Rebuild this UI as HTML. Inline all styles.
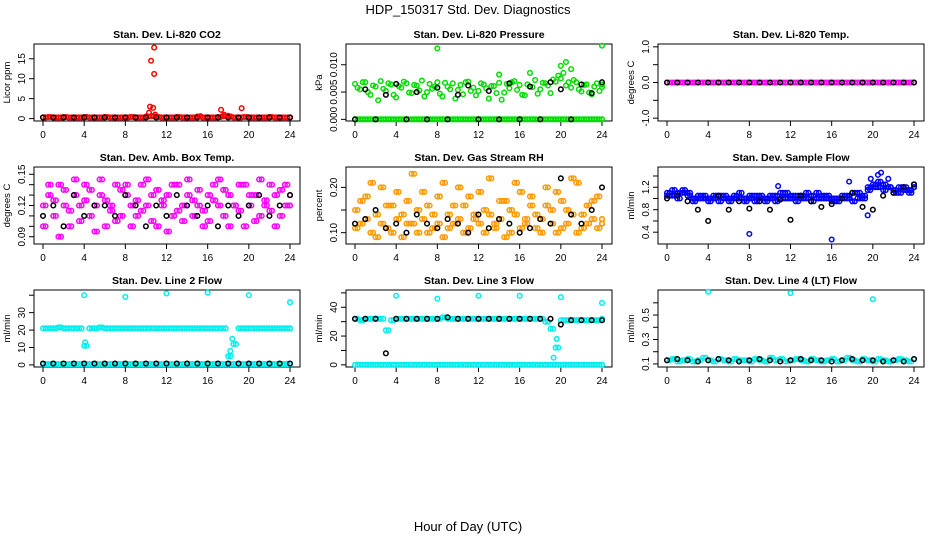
<!DOCTYPE html>
<html><head><meta charset="utf-8"><style>
body{margin:0;background:#fff;}
svg{display:block;font-family:"Liberation Sans",sans-serif;}
</style></head><body>
<svg id="c" width="936" height="540" viewBox="0 0 936 540">
<text x="468" y="14" text-anchor="middle" font-size="13">HDP_150317  Std. Dev. Diagnostics</text>
<text x="468" y="531" text-anchor="middle" font-size="13">Hour of Day (UTC)</text>
</svg>
<script>
// ---- data ----
const xTicks = [0,4,8,12,16,20,24];
const co2Base = [0.3,0.4,0.3,0.3,0.4,0.3,0.3,0.3,0.4,0.3,0.3,0.3,0.4,0.3,0.3,0.3,0.3,0.4,0.3,0.3,0.5,0.6,0.4,0.3,0.3,0.3,0.4,0.3,0.3,0.3,0.5,0.3,0.3,0.3,0.4,0.6,0.5,0.3,0.3,0.4,0.3,0.3,0.3,0.3,0.4,0.3,0.3,0.3,0.3];
const co2SpikeH = [10.3,10.4,10.5,10.7,10.8,10.8,10.9,15.3,17.3,17.6,18.0,19.3];
const co2SpikeV = [1.5,3,14.5,2.7,17.8,11.2,1.0,0.6,2.2,1.0,0.7,2.6];
const co2Black = [0.3,0.3,0.3,0.3,0.3,0.3,0.3,0.3,0.3,0.3,0.3,0.3,0.3,0.3,0.3,0.3,0.3,0.3,0.3,0.3,0.3,0.3,0.3,0.3,0.3];
const presLow = [0,0,0,0,0,0,0,0,0,0,0,0,0,0,0,0,0,0,0,0,0,0,0,0,0,0,0,0,0,0,0,0,0,0,0,0,0,0,0,0,0,0,0,0,0,0,0,0,0];
const presHigh = [0.0065,0.0055,0.0068,0.0045,0.006,0.007,0.0052,0.0064,0.004,0.0058,0.0066,0.0048,0.0062,0.0071,0.005,0.0056,0.0068,0.0042,0.006,0.0066,0.0054,0.0046,0.0069,0.0058,0.0052,0.0064,0.0038,0.0061,0.0067,0.0049,0.0057,0.007,0.0063,0.0044,0.006,0.0072,0.0055,0.0066,0.0048,0.0069,0.0075,0.0062,0.0058,0.0068,0.0051,0.0064,0.0046,0.0066,0.0059];
const presHigh2 = [0.0058,0.0068,0.005,0.0062,0.0035,0.0056,0.0066,0.0045,0.0061,0.0069,0.0049,0.0063,0.0053,0.0042,0.0065,0.006,0.0047,0.0067,0.0055,0.0038,0.0063,0.0068,0.0052,0.0044,0.0066,0.0057,0.0061,0.0048,0.0036,0.0065,0.0068,0.0054,0.0045,0.0064,0.0059,0.0047,0.0067,0.0062,0.0073,0.008,0.0085,0.0068,0.0072,0.0055,0.0063,0.0049,0.006,0.0052,0.0064];
const presOutH = [8,24,20,20.5,21,17,14];
const presOutV = [0.013,0.0135,0.0098,0.0105,0.0092,0.0085,0.0082];
const presBlack = [0,0.0055,0,0.0045,0.0065,0,0.005,0,0.0058,0,0.0045,0.0062,0,0.0052,0,0.0066,0,0.006,0,0.0068,0.0055,0,0.0064,0.0048,0.0068];
const tempMag = [0,0,0,0,0,0,0,0,0,0,0,0,0,0,0,0,0,0,0,0,0,0,0,0,0,0,0,0,0,0,0,0,0,0,0,0,0,0,0,0,0,0,0,0,0,0,0,0,0];
const tempBlack = [0,0,0,0,0,0,0,0,0,0,0,0,0,0,0,0,0,0,0,0,0,0,0,0,0];
const ambA = [0.12,0.13,0.11,0.14,0.12,0.10,0.13,0.12,0.14,0.11,0.12,0.13,0.10,0.12,0.14,0.11,0.13,0.12,0.11,0.14,0.12,0.13,0.10,0.12,0.13,0.11,0.14,0.12,0.13,0.11,0.12,0.10,0.13,0.14,0.12,0.11,0.13,0.12,0.14,0.10,0.12,0.13,0.11,0.12,0.14,0.13,0.11,0.12,0.13];
const ambB = [0.10,0.14,0.125,0.09,0.135,0.115,0.145,0.105,0.125,0.135,0.095,0.145,0.125,0.115,0.105,0.135,0.14,0.10,0.125,0.115,0.145,0.105,0.135,0.125,0.095,0.14,0.115,0.105,0.145,0.125,0.135,0.115,0.105,0.125,0.145,0.135,0.10,0.12,0.115,0.14,0.13,0.105,0.145,0.125,0.115,0.10,0.135,0.14,0.12];
const ambBlack = [0.11,0.12,0.10,0.13,0.11,0.12,0.12,0.11,0.13,0.12,0.10,0.12,0.11,0.13,0.12,0.11,0.12,0.10,0.12,0.11,0.12,0.13,0.11,0.12,0.13];
const rhA = [0.15,0.12,0.18,0.10,0.14,0.20,0.11,0.16,0.13,0.09,0.17,0.12,0.15,0.19,0.10,0.14,0.12,0.21,0.11,0.16,0.13,0.10,0.18,0.14,0.12,0.15,0.22,0.11,0.13,0.17,0.10,0.14,0.19,0.12,0.16,0.11,0.13,0.20,0.15,0.10,0.17,0.12,0.14,0.21,0.11,0.16,0.13,0.18,0.12];
const rhB = [0.11,0.17,0.13,0.21,0.09,0.12,0.16,0.10,0.19,0.14,0.12,0.23,0.10,0.13,0.16,0.11,0.18,0.09,0.14,0.12,0.20,0.16,0.11,0.13,0.19,0.10,0.14,0.12,0.17,0.09,0.15,0.21,0.11,0.13,0.18,0.14,0.10,0.16,0.12,0.19,0.11,0.15,0.22,0.10,0.14,0.12,0.17,0.11,0.13];
const rhBlack = [0.12,0.13,0.15,0.11,0.12,0.10,0.14,0.12,0.11,0.13,0.12,0.10,0.14,0.11,0.13,0.12,0.10,0.11,0.13,0.12,0.22,0.14,0.12,0.15,0.20];
const flowA = [1.1,1.05,1.1,1.15,1.05,1.0,1.0,1.05,0.95,1.0,1.05,1.0,1.0,1.05,1.0,0.95,1.0,1.05,1.0,1.0,1.05,0.95,1.0,1.1,1.0,1.05,1.0,1.0,1.05,1.1,1.05,1.0,0.95,1.0,1.0,1.05,1.1,1.0,1.05,1.2,1.25,1.2,1.15,1.2,1.15,1.1,1.2,1.15,1.2];
const flowB = [1.05,1.15,1.0,1.1,1.1,0.95,1.05,1.0,1.0,1.05,0.95,1.05,0.95,1.0,1.1,1.0,1.05,0.95,1.05,0.95,1.0,1.05,1.1,1.0,1.05,0.95,1.05,1.1,0.95,1.0,1.0,1.05,1.0,0.95,1.05,1.0,0.95,1.1,1.0,1.15,1.2,1.3,1.25,1.2,1.1,1.2,1.15,1.1,1.25];
const flowOutH = [8,16,20.5,20.8,17.7,19.5,21.5,19.8,10.8];
const flowOutV = [0.37,0.27,1.42,1.46,1.3,0.7,1.35,1.35,1.22];
const flowBlack = [1.0,1.05,0.95,0.8,0.6,1.05,0.8,0.95,0.82,0.95,0.8,0.98,0.62,1.05,0.95,0.85,0.9,1.0,1.1,0.85,0.8,1.05,1.1,1.2,1.25];
const l2High = [21,21,21,21.5,21,21,21,21,11,21,21,21.5,21,21,21,21,21,21,21,21,21,21,21,21,21,21,21,21,21,21,21,21,21,21,21,21,5,12,21,21,21,21,21,21,21,21,21,21,21];
const l2Low = [0.5,0.5,0.5,0.5,0.5,0.5,0.5,0.5,0.5,0.5,0.5,0.5,0.5,0.5,0.5,0.5,0.5,0.5,0.5,0.5,0.5,0.5,0.5,0.5,0.5,0.5,0.5,0.5,0.5,0.5,0.5,0.5,0.5,0.5,0.5,0.5,0.5,0.5,0.5,0.5,0.5,0.5,0.5,0.5,0.5,0.5,0.5,0.5,0.5];
const l2OutH = [4,8,12,16,20,24,4.1,18.2,18.4];
const l2OutV = [40,39,41,41.5,40,36,13,8,15];
const l2Black = [0.8,0.8,0.8,0.8,0.8,0.8,0.8,0.8,0.8,0.8,0.8,0.8,0.8,0.8,0.8,0.8,0.8,0.8,0.8,0.8,0.8,0.8,0.8,0.8,0.8];
const l3High = [32,31,32,32,32,32,24,31,32,32,32,32,32,32,32,32,32,33,32,32,32,32,32,32,32,32,32,32,32,32,32,32,32,32,32,32,32,30,25,12,31,31,31,31,31,31,31,31,32];
const l3Low = [0,0,0,0,0,0,0,0,0,0,0,0,0,0,0,0,0,0,0,0,0,0,0,0,0,0,0,0,0,0,0,0,0,0,0,0,0,0,0,0,0,0,0,0,0,0,0,0,0];
const l3OutH = [4,8,12,16,20,24,19.3,19.6];
const l3OutV = [48,46,48,48,47,43,5,18];
const l3Black = [32,32,32,8,32,32,32,32,32,33,32,32,32,32,32,32,32,32,32,32,28,31,31,31,31];
const l4A = [0.13,0.14,0.12,0.13,0.14,0.12,0.13,0.15,0.13,0.12,0.14,0.13,0.12,0.14,0.13,0.13,0.12,0.14,0.13,0.12,0.15,0.13,0.14,0.12,0.13,0.14,0.13,0.12,0.14,0.13,0.12,0.13,0.14,0.12,0.13,0.15,0.13,0.12,0.14,0.13,0.12,0.14,0.13,0.12,0.13,0.14,0.13,0.12,0.14];
const l4OutH = [4,12,20];
const l4OutV = [0.69,0.68,0.63];
const l4Black = [0.13,0.14,0.13,0.12,0.13,0.14,0.13,0.12,0.13,0.14,0.13,0.12,0.13,0.14,0.13,0.13,0.12,0.13,0.14,0.13,0.13,0.12,0.13,0.12,0.14];

const hours49 = Array.from({length:49},(_,i)=>i*0.5);
const hours49b = Array.from({length:49},(_,i)=>i*0.5+0.25).map(h=>Math.min(h,24));
const hours25 = Array.from({length:25},(_,i)=>i);

const RED='#ff0000',GRN='#00dd00',MAG='#ff00ff',ORG='#ff9900',BLU='#0000ff',CYN='#00eeee',BLK='#000000';

const panels = [
 {name:'co2',title:'Stan. Dev. Li-820 CO2',col:0,row:0,ymin:-0.6,ymax:18.7,ticks:[0,5,10,15],labels:['0','5','10','15'],ylab:'Licor ppm',
  series:[[hours49,co2Base,RED],[hours49b,co2Base,RED],[hours25,co2Black,BLK],[co2SpikeH,co2SpikeV,RED]]},
 {name:'pressure',title:'Stan. Dev. Li-820 Pressure',col:1,row:0,ymin:-0.0003,ymax:0.0138,ticks:[0,0.005,0.01],labels:['0.000','0.005','0.010'],ylab:'kPa',
  series:[[hours49,presLow,GRN],[hours49b,presLow,GRN],[hours49,presHigh,GRN],[hours49b,presHigh2,GRN],[presOutH,presOutV,GRN],[hours25,presBlack,BLK]]},
 {name:'temp',title:'Stan. Dev. Li-820 Temp.',col:2,row:0,ymin:-1.08,ymax:1.08,ticks:[-1,-0.5,0,0.5,1],labels:['-1.0','','0.0','','1.0'],ylab:'degrees C',
  series:[[hours49,tempMag,MAG],[hours49b,tempMag,MAG],[hours25,tempBlack,BLK]]},
 {name:'amb-box',title:'Stan. Dev. Amb. Box Temp.',col:0,row:1,ymin:0.083,ymax:0.157,ticks:[0.09,0.10,0.11,0.12,0.13,0.14,0.15],labels:['0.09','','','0.12','','','0.15'],ylab:'degrees C',
  series:[[hours49,ambA,MAG],[hours49b,ambB,MAG],[hours49,ambB,MAG],[hours49b,ambA,MAG],[hours25,ambBlack,BLK]]},
 {name:'rh',title:'Stan. Dev. Gas Stream RH',col:1,row:1,ymin:0.075,ymax:0.245,ticks:[0.10,0.15,0.20],labels:['0.10','','0.20'],ylab:'percent',
  series:[[hours49,rhA,ORG],[hours49b,rhB,ORG],[hours49,rhB,ORG],[hours49b,rhA,ORG],[hours25,rhBlack,BLK]]},
 {name:'sample-flow',title:'Stan. Dev. Sample Flow',col:2,row:1,ymin:0.19,ymax:1.56,ticks:[0.4,0.6,0.8,1.0,1.2,1.4],labels:['0.4','','0.8','','1.2',''],ylab:'ml/min',
  series:[[hours49,flowA,BLU],[hours49b,flowB,BLU],[hours49,flowB,BLU],[hours49b,flowA,BLU],[flowOutH,flowOutV,BLU],[hours25,flowBlack,BLK]]},
 {name:'line2',title:'Stan. Dev. Line 2 Flow',col:0,row:2,ymin:-1.2,ymax:43,ticks:[0,10,20,30,40],labels:['0','10','20','30',''],ylab:'ml/min',
  series:[[hours49,l2High,CYN],[hours49b,l2High,CYN],[hours49,l2Low,CYN],[hours49b,l2Low,CYN],[l2OutH,l2OutV,CYN],[hours25,l2Black,BLK]]},
 {name:'line3',title:'Stan. Dev. Line 3 Flow',col:1,row:2,ymin:-1.5,ymax:52,ticks:[0,10,20,30,40,50],labels:['0','','20','','40',''],ylab:'ml/min',
  series:[[hours49,l3High,CYN],[hours49b,l3High,CYN],[hours49,l3Low,CYN],[hours49b,l3Low,CYN],[l3OutH,l3OutV,CYN],[hours25,l3Black,BLK]]},
 {name:'line4',title:'Stan. Dev. Line 4 (LT) Flow',col:2,row:2,ymin:0.075,ymax:0.705,ticks:[0.1,0.2,0.3,0.4,0.5,0.6],labels:['0.1','','0.3','','0.5',''],ylab:'ml/min',
  series:[[hours49,l4A,CYN],[hours49b,l4A,CYN],[l4OutH,l4OutV,CYN],[hours25,l4Black,BLK]]}
];

const NS='http://www.w3.org/2000/svg';
const svg=document.getElementById('c');
function mk(tag,attrs,parent){const e=document.createElementNS(NS,tag);for(const k in attrs)e.setAttribute(k,attrs[k]);parent.appendChild(e);return e;}
const colX=[34,346,658], rowY=[44,167,290], W=266, H=77;

panels.forEach(p=>{
  const L=colX[p.col], T=rowY[p.row];
  const g=mk('g',{},svg);
  
  
  const xs=h=>L+9+h/24*247;
  const ys=v=>T+H-(v-p.ymin)/(p.ymax-p.ymin)*H;
  const t=mk('text',{x:L+W/2,y:T-6,'text-anchor':'middle','font-size':'10.5','font-weight':'bold'},g);
  t.textContent=p.title;
  
  
  const box=mk('rect',{x:L,y:T,width:W,height:H,fill:'none',stroke:'#000','stroke-width':1},g);
  
  
  const xa=mk('g',{},g);
  
  
  mk('line',{x1:xs(0),x2:xs(24),y1:T+H,y2:T+H,stroke:'#000'},xa);
  xTicks.forEach(h=>{
    mk('line',{x1:xs(h),x2:xs(h),y1:T+H,y2:T+H+5,stroke:'#000'},xa);
    const lt=mk('text',{x:xs(h),y:T+H+17,'text-anchor':'middle','font-size':'10'},xa);
    lt.textContent=h;
  });
  const ya=mk('g',{},g);
  
  
  mk('line',{x1:L,x2:L,y1:ys(p.ticks[0]),y2:ys(p.ticks[p.ticks.length-1]),stroke:'#000'},ya);
  p.ticks.forEach((v,i)=>{
    const y=ys(v);
    mk('line',{x1:L-5,x2:L,y1:y,y2:y,stroke:'#000'},ya);
    if(p.labels[i]){
      const lt=mk('text',{x:L-9,y:y,'text-anchor':'middle','font-size':'10',transform:`rotate(-90 ${L-9} ${y})`},ya);
      lt.textContent=p.labels[i];
    }
  });
  const yl=mk('text',{x:L-24,y:T+H/2,'text-anchor':'middle','font-size':'9.5',transform:`rotate(-90 ${L-24} ${T+H/2})`},ya);
  yl.textContent=p.ylab;
  
  
  p.series.forEach((s,si)=>{
    const sg=mk('g',{fill:'none',stroke:s[2],'stroke-width':1.5},g);
    
    
    s[0].forEach((h,i)=>{
      const v=s[1][i];
      if(v===undefined)return;
      const c=mk('circle',{cx:xs(h),cy:ys(v),r:2.3},sg);
      
      
    });
  });
});
</script>
</body></html>
